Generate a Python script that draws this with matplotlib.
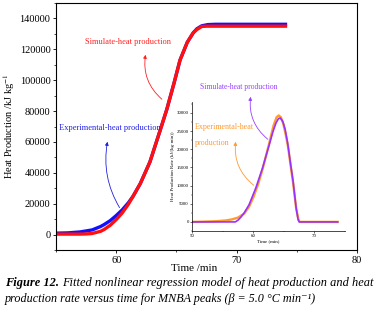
import matplotlib
matplotlib.use("Agg")
import matplotlib.pyplot as plt
from matplotlib.patches import FancyArrowPatch
from matplotlib.ticker import MultipleLocator

plt.rcParams['font.family'] = ['Liberation Serif', 'DejaVu Serif']
plt.rcParams['mathtext.fontset'] = 'stix'

# ---- main plot data: cumulative heat production (kJ/kg) vs time (min)
t_exp = [55, 56, 57, 58, 58.7, 59, 59.5, 60, 60.5, 61, 61.4, 62, 62.8, 63.67, 64.2,
         64.8, 65.3, 65.9, 66.4, 66.7, 67.1, 67.6, 68.25, 74.2]
q_exp = [900, 1100, 1700, 3000, 5200, 6500, 9000, 12300, 16000, 20500, 24800, 33000,
         47000, 68000, 81000, 98000, 113000, 124500, 130700, 133300, 135200, 136000,
         136200, 136200]
t_sim = [55, 56, 57, 57.5, 58, 58.7, 59, 59.5, 60, 60.5, 61, 61.4, 62, 62.8, 63.67, 64.2,
         64.8, 65.3, 65.9, 66.4, 66.7, 67.1, 67.5, 74.2]
q_sim = [300, 300, 300, 400, 700, 2100, 3300, 6000, 9700, 14000, 19500, 24800, 33000,
         47000, 68000, 81000, 98000, 113000, 124500, 130700, 132800, 134800, 135000,
         135000]

# ---- inset data: heat production rate vs time
rt_sim = [50, 57.05, 57.5, 58.0, 58.5, 59.3, 60.4, 61.5, 62.6, 63.2, 63.7, 64.1, 64.4,
          64.8, 65.2, 65.6, 66.0, 66.5, 67.0, 67.3, 67.5, 73.8]
r_sim = [0, 0, 500, 1400, 2500, 4750, 9350, 14850, 21250, 24800, 27200, 28400, 28600,
         27700, 25500, 21800, 17000, 11200, 3850, 800, 0, 0]
rt_exp = [50, 52, 54, 55.5, 56.5, 57.5, 58.5, 59.3, 60.0, 60.8, 61.5, 62.5, 63.3, 63.8,
          64.15, 64.5, 64.9, 65.3, 65.7, 66.1, 66.5, 67.0, 67.4, 67.6, 73.8]
r_exp = [0, 80, 200, 400, 700, 1200, 2300, 4200, 6800, 10500, 14500, 21000, 26500,
         28800, 29300, 28800, 27000, 24000, 20500, 15500, 10800, 3800, 500, 0, 0]

W, H = 378, 313
fig = plt.figure(figsize=(W / 100, H / 100), dpi=100)

def fx(px):
    return px / W

def fy(py):
    return 1 - py / H

ax = fig.add_axes([fx(56), fy(250), (357 - 56) / W, (250 - 3) / H])
ax.plot(t_exp, q_exp, color='#1010ff', lw=2.4, solid_capstyle='butt')
ax.plot(t_sim, q_sim, color='#ff1010', lw=2.4, solid_capstyle='butt')
ax.set_xlim(55, 80)
ax.set_ylim(-10000, 150000)
ax.set_xticks([60, 70, 80])
ax.set_yticks(range(0, 140001, 20000))
ax.xaxis.set_minor_locator(MultipleLocator(5))
ax.yaxis.set_minor_locator(MultipleLocator(10000))
ax.tick_params(which='both', direction='out', top=False, right=False, labelsize=7.5,
               pad=1.5)
ax.tick_params(which='major', length=2.5, width=0.6)
ax.tick_params(which='minor', length=1.5, width=0.5)
for s in ax.spines.values():
    s.set_linewidth(0.8)
ax.set_xlabel('Time /min', fontsize=8)
ax.xaxis.set_label_coords(0.46, -0.055)
ax.set_ylabel('Heat Production /kJ kg$^{-1}$', fontsize=7.5)
ax.yaxis.set_label_coords(-0.13, 0.5)

# ---- inset
ax2 = fig.add_axes([fx(192.3), fy(231), (345 - 192.3) / W, (231 - 102) / H])
ax2.patch.set_alpha(0)
ax2.plot(rt_exp, r_exp, color='#ff9a30', lw=1.7)
ax2.plot(rt_sim, r_sim, color='#9a30ff', lw=1.2)
ax2.set_xlim(50, 75)
ax2.set_ylim(-2500, 33000)
ax2.set_xticks([50, 60, 70])
ax2.set_yticks(range(0, 30001, 5000))
ax2.xaxis.set_minor_locator(MultipleLocator(5))
ax2.yaxis.set_minor_locator(MultipleLocator(2500))
ax2.spines['top'].set_visible(False)
ax2.spines['right'].set_visible(False)
for s in ax2.spines.values():
    s.set_linewidth(0.5)
ax2.tick_params(which='both', direction='out', labelsize=3.5, pad=1)
ax2.tick_params(which='major', length=1.5, width=0.4)
ax2.tick_params(which='minor', length=1, width=0.3)
ax2.set_xlabel('Time (min)', fontsize=3.5, labelpad=0.5)
ax2.set_ylabel('Heat Production Rate (kJ/(kg\u00b7min))', fontsize=3.5, labelpad=1)

# ---- annotations
red, blue, purple, orange = '#ff2020', '#2020e0', '#9a40ff', '#ff9a30'
fig.text(fx(128), fy(42), 'Simulate-heat production', color=red, fontsize=6,
         ha='center', va='center')
fig.text(fx(110), fy(128), 'Experimental-heat production', color=blue, fontsize=6,
         ha='center', va='center')
fig.text(fx(239), fy(87), 'Simulate-heat production', color=purple, fontsize=5.5,
         ha='center', va='center')
fig.text(fx(195), fy(127), 'Experimental-heat', color=orange, fontsize=5.8,
         ha='left', va='center')
fig.text(fx(195), fy(143), 'production', color=orange, fontsize=5.8,
         ha='left', va='center')

def arrow(p0, p1, color, rad):
    a = FancyArrowPatch((fx(p0[0]), fy(p0[1])), (fx(p1[0]), fy(p1[1])),
                        transform=fig.transFigure, arrowstyle='-|>',
                        mutation_scale=5, lw=0.6, color=color,
                        connectionstyle=f'arc3,rad={rad}')
    fig.add_artist(a)

arrow((164, 101), (146, 52), red, -0.3)
arrow((121, 210), (108, 139), blue, -0.2)
arrow((270, 141), (251, 94), purple, -0.3)
arrow((256, 187), (236, 139), orange, -0.3)

# ---- caption
fig.canvas.draw()
r = fig.canvas.get_renderer()
t1 = fig.text(fx(5), fy(283), 'Figure 12.', fontsize=8.9, style='italic',
              weight='bold', ha='left', va='center')
bb = t1.get_window_extent(r)
fig.text(bb.x1 / W + fx(3), fy(283),
         'Fitted nonlinear regression model of heat production and heat',
         fontsize=8.9, style='italic', ha='left', va='center')
fig.text(fx(5), fy(299),
         'production rate versus time for MNBA peaks (\u03b2 = 5.0 \u00b0C min\u207b\u00b9)',
         fontsize=8.7, style='italic', ha='left', va='center')

fig.savefig('out.png', dpi=100)
